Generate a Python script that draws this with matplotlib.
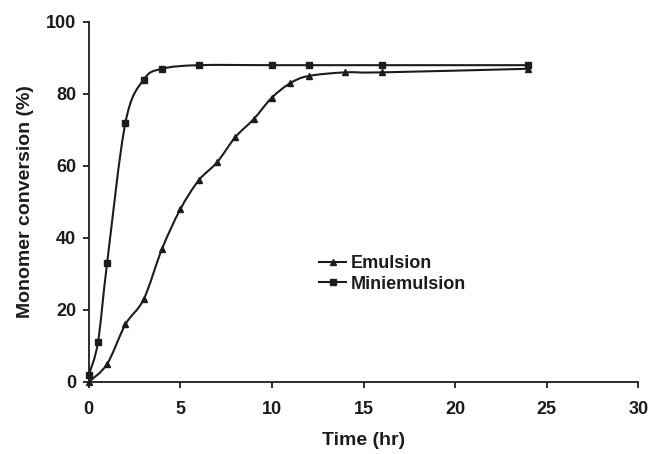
import numpy as np
import matplotlib.pyplot as plt
from matplotlib.path import Path
from matplotlib.patches import PathPatch
from matplotlib.lines import Line2D

plt.rcParams['font.family'] = ['Liberation Sans', 'DejaVu Sans']
plt.rcParams['font.weight'] = 'bold'

# emulsion polymerisation
emul_t = [0, 1, 2, 3, 4, 5, 6, 7, 8, 9, 10, 11, 12, 14, 16, 24]
emul_conv = [0, 5, 16, 23, 37, 48, 56, 61, 68, 73, 79, 83, 85, 86, 86, 87]

# miniemulsion polymerisation
mini_t = [0, 0.5, 1, 2, 3, 4, 6, 10, 12, 16, 24]
mini_conv = [2, 11, 33, 72, 84, 87, 88, 88, 88, 88, 88]

xticks = [0, 5, 10, 15, 20, 25, 30]
yticks = [0, 20, 40, 60, 80, 100]

INK = '#1c1c1c'


def smooth_path(x, y):
    # excel-like smoothed line: catmull-rom segments as cubic beziers
    pts = np.column_stack([x, y]).astype(float)
    n = len(pts)
    verts = [pts[0]]
    codes = [Path.MOVETO]
    for i in range(n - 1):
        p0 = pts[max(i - 1, 0)]
        p1 = pts[i]
        p2 = pts[i + 1]
        p3 = pts[min(i + 2, n - 1)]
        c1 = p1 + (p2 - p0) / 6.0
        c2 = p2 - (p3 - p1) / 6.0
        verts += [c1, c2, p2]
        codes += [Path.CURVE4] * 3
    return Path(verts, codes)


fig = plt.figure(figsize=(6.48, 4.54), dpi=100)
ax = fig.add_axes([0.137, 0.1586, 0.848, 0.793])

for t, c, mk, ms in [(emul_t, emul_conv, '^', 5), (mini_t, mini_conv, 's', 5)]:
    ax.add_patch(PathPatch(smooth_path(t, c), facecolor='none', edgecolor=INK,
                           lw=1.5, clip_on=False))
    ax.plot(t, c, ls='none', marker=mk, ms=ms, color=INK, clip_on=False)

ax.set_xlim(0, 30)
ax.set_ylim(0, 100)
ax.set_xticks(xticks)
ax.set_yticks(yticks)
ax.spines['top'].set_visible(False)
ax.spines['right'].set_visible(False)
for s in ('left', 'bottom'):
    ax.spines[s].set_linewidth(1.3)
    ax.spines[s].set_color(INK)
ax.tick_params(direction='out', length=4, width=1.3, color=INK,
               labelsize=13, labelcolor=INK, pad=5)
ax.tick_params(axis='x', pad=10)
ax.set_xlabel('Time (hr)', fontsize=14, fontweight='bold', color=INK, labelpad=10)
ax.set_ylabel('Monomer conversion (%)', fontsize=14, fontweight='bold', color=INK, labelpad=9)

handles = [
    Line2D([], [], color=INK, lw=1.5, marker='^', ms=4),
    Line2D([], [], color=INK, lw=1.5, marker='s', ms=4),
]
ax.legend(handles, ['Emulsion', 'Miniemulsion'], loc='center left',
          bbox_to_anchor=(0.39, 0.30), frameon=False, handlelength=1.5,
          handletextpad=0.25, labelspacing=0.2, prop={'size': 13, 'weight': 'bold'},
          labelcolor=INK)

fig.savefig('out.png', dpi=100)
